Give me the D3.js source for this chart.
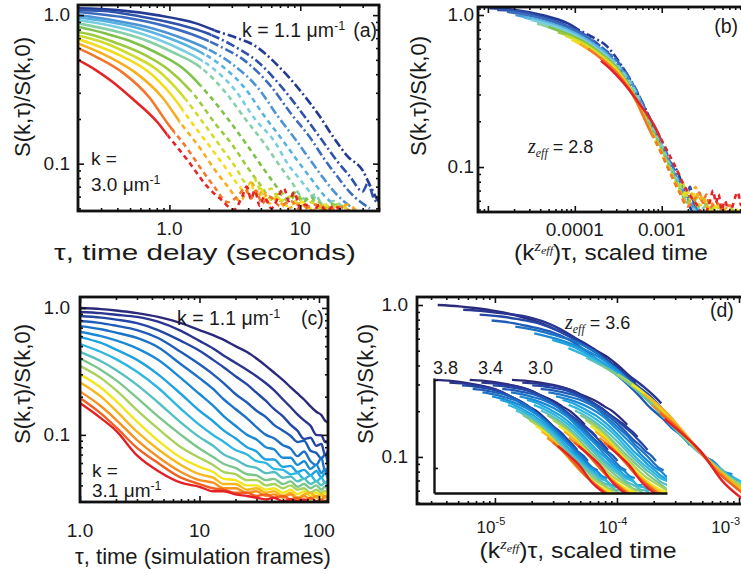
<!DOCTYPE html>
<html>
<head>
<meta charset="utf-8">
<script src="https://cdn.jsdelivr.net/npm/d3@7"></script>
<style>
  body { margin: 0; background: #fff; }
  text { font-family: "Liberation Sans", Arial, sans-serif; fill: #1a1a1a; }
</style>
</head>
<body>
<svg id="fig" width="741" height="574"></svg>
<script>
// ---- panel (a): experiment, S(k,tau)/S(k,0) vs tau (s) ----
const solidEndA = [2.2, 2.1, 2.0, 1.95, 1.85, 1.8, 1.75, 1.72, 1.45, 1.33, 1.28, 1.2, 1.1, 0.97];
const seriesA = [
  [[0.2,1.11],[0.4,1.08],[0.8,1.0],[1.6,0.88],[2.3,0.78],[3.3,0.7],[4.4,0.63],[6.7,0.46],[10,0.31],[14,0.21],[18,0.15],[23,0.112],[30,0.09],[34,0.072],[39,0.057],[45,0.05]],
  [[0.2,1.08],[0.3,1.07],[0.6,0.98],[1.2,0.86],[1.9,0.76],[3,0.63],[4.8,0.48],[7.6,0.31],[10.7,0.21],[15,0.14],[19,0.105],[24,0.082],[30,0.065],[33,0.074],[36,0.06],[42,0.052]],
  [[0.2,1.05],[0.47,0.96],[0.95,0.84],[1.5,0.74],[2.4,0.62],[3.8,0.49],[6,0.33],[8.4,0.22],[12,0.148],[15,0.11],[19,0.083],[24,0.064],[34,0.05]],
  [[0.2,1.0],[0.38,0.92],[0.76,0.81],[1.2,0.71],[1.9,0.6],[3,0.47],[4.8,0.32],[6.7,0.21],[9.5,0.14],[12,0.105],[15,0.08],[19,0.062],[27,0.048]],
  [[0.2,0.965],[0.3,0.92],[0.6,0.81],[0.95,0.71],[1.5,0.6],[2.4,0.47],[3.8,0.32],[5.3,0.21],[7.5,0.14],[9.5,0.105],[12,0.08],[15,0.062],[21,0.048]],
  [[0.2,0.926],[0.25,0.9],[0.5,0.79],[0.8,0.69],[1.26,0.58],[2,0.46],[3.2,0.31],[4.5,0.2],[6.4,0.14],[8,0.1],[10,0.078],[12.7,0.06],[18,0.047]],
  [[0.2,0.88],[0.43,0.76],[0.68,0.67],[1.07,0.56],[1.7,0.45],[2.7,0.3],[3.8,0.2],[5.4,0.134],[6.8,0.1],[8.6,0.075],[10.8,0.058],[13,0.062],[15,0.052],[18,0.056],[22,0.048]],
  [[0.2,0.835],[0.32,0.755],[0.5,0.67],[0.79,0.56],[1.26,0.44],[2,0.29],[2.8,0.2],[4,0.13],[5,0.098],[6.3,0.074],[7.9,0.058],[9,0.064],[10.5,0.055],[12,0.06],[14,0.05],[17,0.054],[20,0.048]],
  [[0.2,0.77],[0.25,0.74],[0.39,0.65],[0.62,0.55],[0.98,0.43],[1.55,0.29],[2.2,0.19],[3.1,0.13],[3.9,0.096],[4.9,0.073],[6.2,0.057],[7,0.066],[8,0.056],[9.5,0.062],[11,0.052],[13,0.057],[16,0.05],[19,0.053],[24,0.048]],
  [[0.2,0.73],[0.32,0.65],[0.51,0.54],[0.8,0.43],[1.27,0.285],[1.8,0.19],[2.5,0.128],[3.2,0.095],[4,0.072],[4.4,0.08],[4.8,0.07],[5.1,0.062],[6,0.068],[7,0.056],[8.5,0.06],[10,0.052],[12,0.055],[15,0.049],[20,0.052],[25,0.047]],
  [[0.2,0.69],[0.27,0.63],[0.43,0.53],[0.68,0.42],[1.07,0.28],[1.5,0.186],[2.1,0.126],[2.7,0.093],[3.4,0.071],[3.8,0.064],[4.2,0.072],[4.6,0.062],[5,0.068],[5.5,0.056],[6.5,0.06],[8,0.052],[10,0.056],[12,0.05],[15,0.053],[18,0.048]],
  [[0.2,0.645],[0.35,0.52],[0.55,0.41],[0.88,0.28],[1.24,0.184],[1.75,0.124],[2.2,0.092],[2.8,0.07],[3.5,0.056],[3.9,0.066],[4.3,0.074],[4.7,0.06],[5.2,0.066],[5.8,0.054],[6.5,0.058],[8,0.05],[10,0.054],[12,0.048],[15,0.052],[19,0.049],[23,0.053],[27,0.048]],
  [[0.2,0.6],[0.28,0.52],[0.44,0.41],[0.7,0.28],[0.98,0.184],[1.39,0.124],[1.75,0.092],[2.2,0.07],[2.8,0.055],[3.3,0.06],[3.8,0.068],[4.2,0.058],[4.6,0.066],[5.1,0.054],[5.8,0.06],[7,0.052],[8.5,0.056],[10,0.049],[13,0.053],[16,0.048],[20,0.051],[25,0.047]],
  [[0.2,0.5],[0.27,0.43],[0.36,0.36],[0.53,0.27],[0.81,0.19],[0.97,0.155],[1.37,0.106],[1.95,0.07],[2.5,0.057],[3.1,0.049],[3.6,0.06],[3.9,0.07],[4.2,0.058],[4.5,0.066],[4.9,0.052],[5.3,0.06],[6,0.05],[7.5,0.068],[8.2,0.056],[9,0.064],[10,0.05],[11,0.053],[12.5,0.047],[14,0.053],[16,0.048],[18,0.052],[21,0.047]]
];
const colorsA = ['#243b95','#2f52ab','#3b6cc0','#4c94d4','#56b2e2','#79cde0','#86d0a6','#7dc14a','#9ccb3b','#cfdc2a','#f4dc1c','#f7ae1f','#f3762a','#e52428'];

// ---- panel (b): k^z_eff factor of each curve (z_eff = 2.8), read from the collapse ----
const shiftB = [5.2e-5, 6.4e-5, 8.3e-5, 1.04e-4, 1.3e-4, 1.56e-4, 1.84e-4, 2.5e-4, 3.2e-4, 3.9e-4, 4.6e-4, 5.7e-4, 7.1e-4, 1.0e-3];

// ---- panel (c): simulation ----
const kC = [1.1, 1.23, 1.37, 1.5, 1.63, 1.77, 1.9, 2.03, 2.17, 2.3, 2.43, 2.57, 2.7, 2.83, 2.97, 3.1];
const tauC = [1, 1.5, 2, 3, 4.5, 7, 10, 13, 16, 20, 25, 30, 36, 42, 50, 58, 66, 75, 85, 95, 105, 112, 119];
const valuesC = [
  [1.0,0.98,0.955,0.91,0.85,0.76,0.67,0.61,0.56,0.5,0.45,0.4,0.35,0.31,0.27,0.237,0.212,0.19,0.168,0.152,0.143,0.13,0.125],
  [0.93,0.91,0.885,0.85,0.78,0.66,0.55,0.48,0.42,0.37,0.325,0.29,0.255,0.225,0.19,0.165,0.145,0.13,0.118,0.1,0.099,0.088,0.087],
  [0.865,0.84,0.81,0.76,0.67,0.55,0.46,0.39,0.34,0.29,0.25,0.215,0.185,0.16,0.14,0.12,0.108,0.093,0.095,0.082,0.085,0.07,0.075],
  [0.79,0.76,0.725,0.67,0.58,0.45,0.36,0.3,0.255,0.21,0.18,0.155,0.138,0.12,0.108,0.098,0.088,0.09,0.075,0.072,0.065,0.07,0.058],
  [0.72,0.68,0.64,0.58,0.49,0.36,0.28,0.23,0.19,0.16,0.135,0.115,0.1,0.094,0.083,0.078,0.068,0.074,0.062,0.058,0.066,0.052,0.055],
  [0.65,0.6,0.555,0.48,0.39,0.28,0.21,0.17,0.14,0.118,0.1,0.092,0.08,0.077,0.066,0.066,0.058,0.062,0.054,0.058,0.05,0.054,0.048],
  [0.59,0.53,0.47,0.39,0.3,0.21,0.155,0.128,0.108,0.094,0.08,0.074,0.064,0.064,0.056,0.057,0.051,0.053,0.048,0.052,0.046,0.05,0.045],
  [0.52,0.45,0.395,0.314,0.235,0.16,0.12,0.1,0.088,0.076,0.07,0.062,0.06,0.054,0.053,0.049,0.05,0.045,0.048,0.043,0.046,0.042,0.044],
  [0.45,0.38,0.325,0.248,0.18,0.125,0.096,0.082,0.07,0.064,0.057,0.055,0.05,0.051,0.046,0.047,0.043,0.045,0.041,0.043,0.04,0.042,0.039],
  [0.40,0.325,0.27,0.196,0.14,0.1,0.078,0.067,0.059,0.055,0.049,0.048,0.044,0.045,0.041,0.043,0.039,0.041,0.038,0.04,0.037,0.039,0.037],
  [0.35,0.28,0.225,0.157,0.112,0.08,0.066,0.058,0.051,0.049,0.044,0.044,0.04,0.041,0.038,0.04,0.037,0.038,0.035,0.037,0.035,0.036,0.035],
  [0.30,0.235,0.185,0.127,0.09,0.066,0.056,0.051,0.045,0.044,0.04,0.04,0.037,0.038,0.035,0.037,0.034,0.036,0.033,0.035,0.033,0.035,0.034],
  [0.26,0.2,0.155,0.106,0.077,0.058,0.049,0.046,0.041,0.041,0.037,0.038,0.035,0.036,0.033,0.035,0.032,0.034,0.035,0.032,0.034,0.032,0.033],
  [0.22,0.168,0.132,0.091,0.067,0.051,0.044,0.042,0.038,0.038,0.035,0.036,0.033,0.034,0.032,0.034,0.031,0.033,0.031,0.033,0.031,0.033,0.032],
  [0.195,0.147,0.115,0.079,0.06,0.046,0.041,0.038,0.037,0.035,0.035,0.033,0.034,0.032,0.033,0.031,0.032,0.03,0.032,0.03,0.031,0.03,0.031],
  [0.178,0.135,0.108,0.069,0.052,0.042,0.039,0.036,0.036,0.034,0.033,0.032,0.031,0.032,0.03,0.031,0.03,0.031,0.029,0.03,0.029,0.03,0.03]
];
const colorsC = ['#2b2a7a','#2a3590','#2447a6','#1f5cb8','#1b72c6','#1a8ad6','#1fa3e0','#2eb7e0','#55c0c0','#7cc68c','#a8d35a','#f5e51c','#f7b81c','#f6901e','#f1601f','#e41f26'];

// ---- panel (d): k^z_eff factor of each curve (z_eff = 3.6), read from the main collapse ----
const shiftD = [3.4e-6, 5.5e-6, 7.5e-6, 9.4e-6, 1.47e-5, 2.1e-5, 2.95e-5, 4.0e-5, 5.6e-5, 7.5e-5, 1.01e-4, 1.32e-4, 1.65e-4, 1.92e-4, 2.24e-4, 2.45e-4];
const maxTauD = 45;
// inset: three trial exponents, each set drawn with its own offset
const insetZ = [3.8, 3.4, 3.0];
const insetUnit = [0.75, 2.3, 9.4];

const svg = d3.select("#fig");
svg.append("rect").attr("width", 741).attr("height", 574).attr("fill", "#fff");
const defs = svg.append("defs");

function clipRect(id, x, y, w, h) {
  defs.append("clipPath").attr("id", id).append("rect")
    .attr("x", x).attr("y", y).attr("width", w).attr("height", h);
}

const isMajor = t => Math.abs(Math.log10(t) - Math.round(Math.log10(t))) < 1e-6;

function frame(x, y) {
  const [x0, x1] = x.range(), [y1, y0] = y.range();
  const g = svg.append("g");
  const xt = x.ticks(), yt = y.ticks();
  [[xt.filter(isMajor), 6], [xt.filter(t => !isMajor(t)), 3]].forEach(([v, len]) => {
    g.append("g").attr("transform", `translate(0,${y1})`)
      .call(d3.axisBottom(x).tickValues(v).tickSize(-len).tickFormat(""));
    g.append("g").attr("transform", `translate(0,${y0})`)
      .call(d3.axisTop(x).tickValues(v).tickSize(-len).tickFormat(""));
  });
  [[yt.filter(isMajor), 6], [yt.filter(t => !isMajor(t)), 3]].forEach(([v, len]) => {
    g.append("g").attr("transform", `translate(${x0},0)`)
      .call(d3.axisLeft(y).tickValues(v).tickSize(-len).tickFormat(""));
    g.append("g").attr("transform", `translate(${x1},0)`)
      .call(d3.axisRight(y).tickValues(v).tickSize(-len).tickFormat(""));
  });
  g.selectAll(".domain").remove();
  g.selectAll(".tick line").attr("stroke", "#111").attr("stroke-width", 1.6);
  g.append("rect").attr("x", x0).attr("y", y0).attr("width", x1 - x0).attr("height", y1 - y0)
    .attr("fill", "none").attr("stroke", "#111").attr("stroke-width", 2.8);
}

function lineOf(x, y) {
  return d3.line().x(d => x(d[0])).y(d => y(d[1])).curve(d3.curveMonotoneX);
}

function label(x, y, str, size, anchor) {
  return svg.append("text").attr("x", x).attr("y", y)
    .attr("font-size", size).attr("text-anchor", anchor || "start").text(str);
}

// stretch a text horizontally to a given width, keeping its centre
function fitWidth(t, w) {
  const b = t.node().getBBox();
  const cx = b.x + b.width / 2;
  t.attr("transform", `translate(${cx},0) scale(${w / b.width},1) translate(${-cx},0)`);
}

function yTitle(x, y) {
  svg.append("text").attr("transform", `translate(${x},${y}) rotate(-90)`)
    .attr("text-anchor", "middle").attr("font-size", 22).text("S(k,\u03c4)/S(k,0)");
}

function kUnit(x, y, val, size) {
  const t = svg.append("text").attr("x", x).attr("y", y).attr("font-size", size);
  t.append("tspan").text(val + " \u03bcm");
  t.append("tspan").attr("dy", -7).attr("font-size", size * 0.65).text("-1");
  return t;
}

function zeff(x, y, val) {
  const t = svg.append("text").attr("x", x).attr("y", y).attr("font-size", 18);
  t.append("tspan").attr("font-family", "Liberation Serif").attr("font-style", "italic").attr("font-size", 20).text("z");
  t.append("tspan").attr("font-family", "Liberation Serif").attr("font-style", "italic").attr("font-size", 12).attr("dy", 4).text("eff");
  t.append("tspan").attr("dy", -4).text(" = " + val);
}

function scaledTitle(x, y, w) {
  const t = svg.append("text").attr("x", x).attr("y", y).attr("font-size", 22).attr("text-anchor", "middle");
  t.append("tspan").text("(k");
  t.append("tspan").attr("dy", -9).attr("font-family", "Liberation Serif").attr("font-style", "italic").attr("font-size", 15).text("z");
  t.append("tspan").attr("dy", 3).attr("font-family", "Liberation Serif").attr("font-style", "italic").attr("font-size", 11).text("eff");
  t.append("tspan").attr("dy", 6).text(")\u03c4, scaled time");
  fitWidth(t, w);
}

// ================= panel (a) =================
const xA = d3.scaleLog().domain([0.2, 40]).range([78, 379]);
const yA = d3.scaleLog().domain([0.048, 1.17]).range([211, 5]);
clipRect("clipA", 78, 5, 301, 206);
const lineA = lineOf(xA, yA);
const plotA = svg.append("g").attr("clip-path", "url(#clipA)");
seriesA.forEach((pts, i) => {
  const xe = xA(solidEndA[i]);
  clipRect("aS" + i, 0, 0, xe, 574);
  clipRect("aD" + i, xe, 0, 741 - xe, 574);
  const c = plotA.append("g").attr("fill", "none").attr("stroke", colorsA[i]).attr("stroke-width", 2.6);
  c.append("path").attr("d", lineA(pts)).attr("clip-path", `url(#aS${i})`);
  c.append("path").attr("d", lineA(pts)).attr("clip-path", `url(#aD${i})`)
    .attr("stroke-dasharray", i < 4 ? "9,3,2,3" : "5,4");
});
frame(xA, yA);
[[1, "1.0"], [10, "10"]].forEach(([v, s]) => label(xA(v), 235, s, 19, "middle"));
[[1, "1.0"], [0.1, "0.1"]].forEach(([v, s]) => label(70, yA(v) + 6, s, 19, "end"));
yTitle(30, 97);
fitWidth(label(205, 260, "\u03c4, time delay (seconds)", 22, "middle"), 302);
kUnit(242, 37, "k = 1.1", 19.5);
label(377, 37, "(a)", 19.5, "end");
label(91, 165, "k =", 19);
kUnit(91, 191, "3.0", 19);

// ================= panel (b) =================
const xB = d3.scaleLog().domain([7.7e-6, 0.0135]).range([478, 760]);
const yB = d3.scaleLog().domain([0.0506, 1.129]).range([212, 7]);
clipRect("clipB", 478, 7, 282, 205);
const lineB = lineOf(xB, yB);
const plotB = svg.append("g").attr("clip-path", "url(#clipB)");
seriesA.forEach((pts, i) => {
  const f = shiftB[i];
  const sp = pts.map(d => [d[0] * f, d[1]]);
  const xe = xB(solidEndA[i] * f);
  clipRect("bS" + i, 0, 0, xe, 574);
  clipRect("bD" + i, xe, 0, 800 - xe, 574);
  const c = plotB.append("g").attr("fill", "none").attr("stroke", colorsA[i]).attr("stroke-width", 2.6);
  c.append("path").attr("d", lineB(sp)).attr("clip-path", `url(#bS${i})`);
  c.append("path").attr("d", lineB(sp)).attr("clip-path", `url(#bD${i})`)
    .attr("stroke-dasharray", i < 4 ? "9,3,2,3" : "5,4");
});
frame(xB, yB);
[[1e-4, "0.0001"], [1e-3, "0.001"]].forEach(([v, s]) => label(xB(v), 236, s, 19, "middle"));
[[1, "1.0"], [0.1, "0.1"]].forEach(([v, s]) => label(474, yB(v) + 6, s, 19, "end"));
yTitle(426, 96);
scaledTitle(611, 260, 194);
label(738, 33, "(b)", 19.5, "end");
zeff(528, 153, "2.8");

// ================= panel (c) =================
const xC = d3.scaleLog().domain([1, 119]).range([80, 328]);
const yC = d3.scaleLog().domain([0.0296, 1.22]).range([502, 297]);
clipRect("clipC", 80, 297, 248, 205);
const lineC = lineOf(xC, yC);
const plotC = svg.append("g").attr("clip-path", "url(#clipC)");
valuesC.forEach((vals, i) => {
  const pts = tauC.map((t, j) => [t, vals[j]]);
  plotC.append("path").attr("d", lineC(pts)).attr("fill", "none")
    .attr("stroke", colorsC[i]).attr("stroke-width", 2.4);
});
frame(xC, yC);
[[1, "1.0"], [10, "10"], [100, "100"]].forEach(([v, s]) => label(xC(v), 537, s, 19, "middle"));
[[1, "1.0"], [0.1, "0.1"]].forEach(([v, s]) => label(70, yC(v) + 6, s, 19, "end"));
yTitle(30, 384);
fitWidth(label(203, 564, "\u03c4, time (simulation frames)", 22, "middle"), 256);
kUnit(177, 325, "k = 1.1", 19.5);
label(301, 325, "(c)", 19.5);
label(92, 477, "k =", 19);
kUnit(92, 497, "3.1", 19);

// ================= panel (d) =================
const xD = d3.scaleLog().domain([2.3e-6, 1.486e-3]).range([417, 760]);
const yD = d3.scaleLog().domain([0.049, 1.129]).range([504, 297]);
clipRect("clipD", 417, 297, 343, 207);
const lineD = lineOf(xD, yD);
const plotD = svg.append("g").attr("clip-path", "url(#clipD)");
valuesC.forEach((vals, i) => {
  const f = shiftD[i];
  const pts = tauC.map((t, j) => [t, vals[j]]).filter(d => d[0] <= maxTauD).map(d => [d[0] * f, d[1]]);
  plotD.append("path").attr("d", lineD(pts)).attr("fill", "none")
    .attr("stroke", colorsC[i]).attr("stroke-width", 2.4);
});

// inset: three collapses with different z_eff
const xI = d3.scaleLog().domain([1, 1905]).range([434, 667]);
const yI = d3.scaleLog().domain([0.052, 1.05]).range([493, 378]);
clipRect("clipI", 434, 378, 233, 115);
const lineI = lineOf(xI, yI);
const plotI = svg.append("g").attr("clip-path", "url(#clipI)");
insetZ.forEach((z, m) => {
  valuesC.forEach((vals, i) => {
    const f = insetUnit[m] * Math.pow(kC[i], z);
    const pts = tauC.map((t, j) => [t, vals[j]]).filter(d => d[0] <= maxTauD).map(d => [d[0] * f, d[1]]);
    plotI.append("path").attr("d", lineI(pts)).attr("fill", "none")
      .attr("stroke", colorsC[i]).attr("stroke-width", 2.2);
  });
});
const gI = svg.append("g");
gI.append("g").attr("transform", "translate(434,0)")
  .call(d3.axisLeft(yI).tickValues([1, 0.1]).tickSize(-4).tickSizeOuter(0).tickFormat(""));
gI.append("g").attr("transform", "translate(0,493)")
  .call(d3.axisBottom(xI).tickValues([]).tickSizeOuter(0));
gI.selectAll(".domain").attr("stroke", "#111").attr("stroke-width", 2.4);
gI.selectAll(".tick line").attr("stroke", "#111").attr("stroke-width", 1.6);

frame(xD, yD);
[[1e-5, "-5"], [1e-4, "-4"], [1e-3, "-3"]].forEach(([v, e]) => {
  // the last label sits at the picture's right edge, so it is right-aligned there
  const last = xD(v) > 725;
  const t = svg.append("text").attr("x", last ? 740 : xD(v) - 4).attr("y", 533)
    .attr("font-size", 17).attr("text-anchor", last ? "end" : "middle");
  t.append("tspan").text("10");
  t.append("tspan").attr("dy", -8).attr("font-size", 11).text(e);
});
[[1, "1.0"], [0.1, "0.1"]].forEach(([v, s]) => label(408, yD(v) + 6, s, 19, "end"));
yTitle(373, 384);
scaledTitle(578, 558, 197);
zeff(565, 329, "3.6");
label(710, 317, "(d)", 19.5);
[["3.8", 433], ["3.4", 478], ["3.0", 528]].forEach(([s, x]) => label(x, 374, s, 18));
</script>
</body>
</html>
